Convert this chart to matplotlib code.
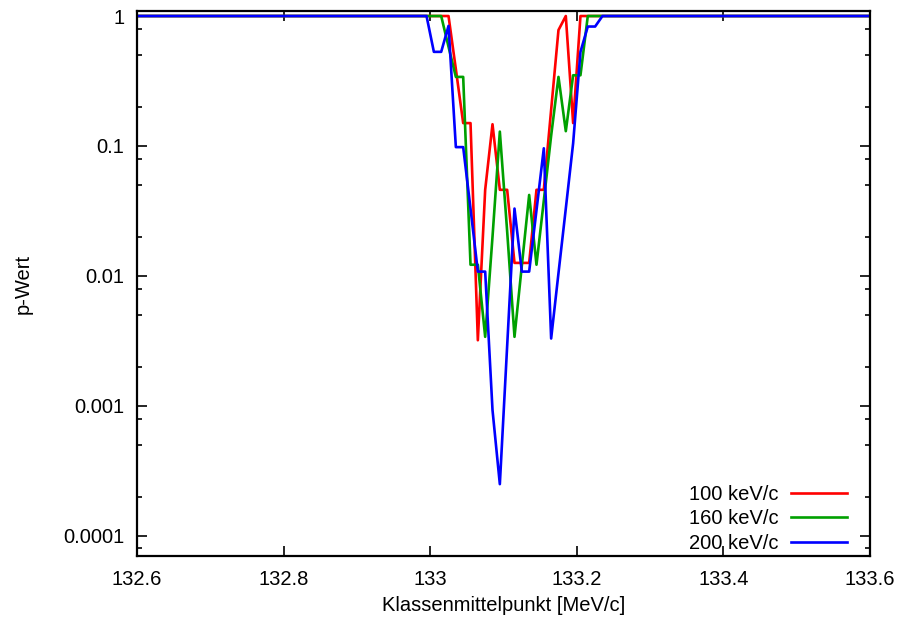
import numpy as np
import matplotlib
matplotlib.use('Agg')
import matplotlib.pyplot as plt
from matplotlib.ticker import FixedLocator, LogLocator, NullFormatter, FuncFormatter

plt.rcParams['font.family'] = ['Liberation Sans', 'DejaVu Sans']
plt.rcParams['font.size'] = 14.5

# class midpoints [MeV/c] (only the region where something happens, edges are flat at 1)
klassen = [132.6, 132.995, 133.005, 133.015, 133.025, 133.035, 133.045, 133.055,
           133.065, 133.075, 133.085, 133.095, 133.105, 133.115, 133.125, 133.135,
           133.145, 133.155, 133.165, 133.175, 133.185, 133.195, 133.205, 133.215,
           133.225, 133.235, 133.6]

p_100 = [1, 1, 1, 1, 1, 0.39, 0.15, 0.15, 0.0032, 0.046, 0.147, 0.046, 0.046,
         0.0126, 0.0126, 0.0126, 0.046, 0.046, 0.19, 0.78, 1.0, 0.15, 1, 1, 1, 1, 1]
p_160 = [1, 1, 1, 1, 0.58, 0.34, 0.34, 0.0122, 0.0122, 0.0034, 0.02, 0.129, 0.022,
         0.0034, 0.012, 0.042, 0.0122, 0.038, 0.12, 0.34, 0.13, 0.35, 0.35, 1, 1, 1, 1]
p_200 = [1, 1, 0.53, 0.53, 0.84, 0.098, 0.098, 0.033, 0.0108, 0.0108, 0.00093,
         0.00025, 0.0029, 0.033, 0.0108, 0.0108, 0.032, 0.096, 0.0033, 0.0105, 0.033,
         0.105, 0.53, 0.83, 0.83, 1, 1]

labels = ['100 keV/c', '160 keV/c', '200 keV/c']
colors = ['#ff0000', '#00a000', '#0000ff']

xticks = [132.6, 132.8, 133.0, 133.2, 133.4, 133.6]
yticks = [1e-4, 1e-3, 1e-2, 1e-1, 1]
ytick_labels = ['0.0001', '0.001', '0.01', '0.1', '1']

fig = plt.figure(figsize=(9.01, 6.21), dpi=100)
ax = fig.add_axes([137/901, 65/621, 733/901, 545/621])

for ys, lab, c in zip([p_100, p_160, p_200], labels, colors):
    ax.plot(klassen, ys, color=c, lw=1.9, label=lab)

ax.set_yscale('log')
ax.set_xlim(132.6, 133.6)
ax.set_ylim(7.0e-5, 1.093)

ax.xaxis.set_major_locator(FixedLocator(xticks))
ax.xaxis.set_major_formatter(FuncFormatter(lambda v, p: '%g' % round(v, 3)))
ax.yaxis.set_major_locator(FixedLocator(yticks))
ax.set_yticklabels(ytick_labels)
ax.yaxis.set_minor_locator(LogLocator(base=10, subs=[2, 5, 8]))
ax.yaxis.set_minor_formatter(NullFormatter())

ax.tick_params(which='both', direction='in', top=True, right=True, width=1.2)
ax.tick_params(which='major', length=7)
ax.tick_params(axis='x', which='major', pad=10)
ax.tick_params(axis='y', which='major', pad=9)
ax.tick_params(which='minor', length=3.5)
for s in ax.spines.values():
    s.set_linewidth(1.6)

ax.set_xlabel('Klassenmittelpunkt [MeV/c]', labelpad=5)
ax.set_ylabel('p-Wert', labelpad=22)

ax.legend(loc='lower right', bbox_to_anchor=(0.969, 0.005), frameon=False,
          markerfirst=False, handlelength=2.8, handletextpad=0.6,
          labelspacing=0.29, borderpad=0, borderaxespad=0)

fig.savefig('out.png', dpi=100)
